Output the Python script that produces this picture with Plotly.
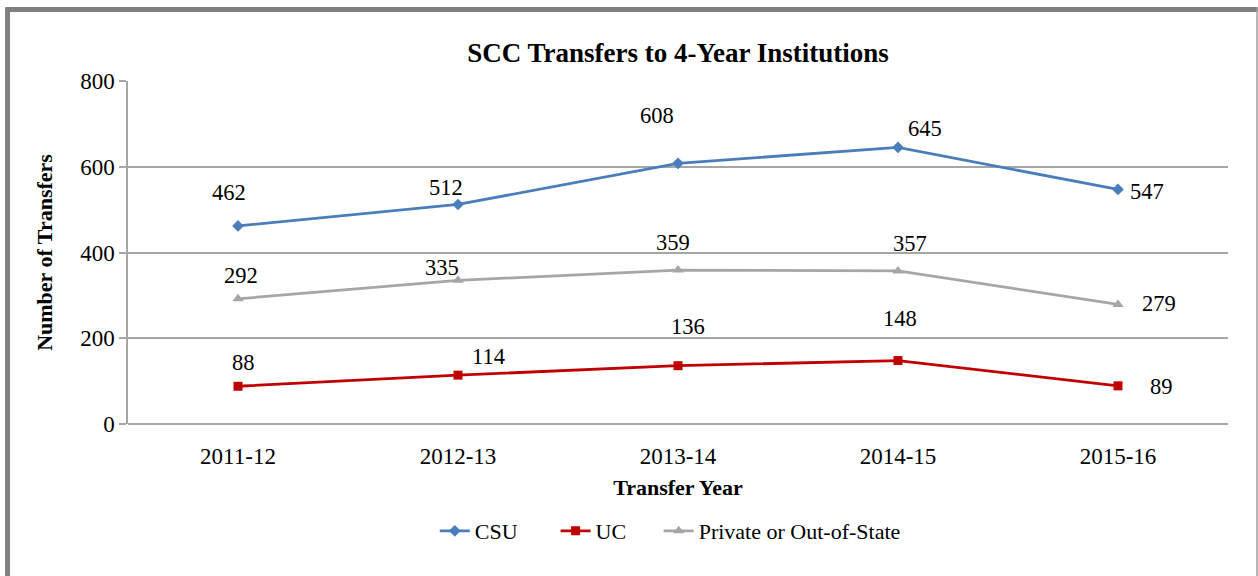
import plotly.graph_objects as go

# Data
years = ["2011-12", "2012-13", "2013-14", "2014-15", "2015-16"]
csu = [462, 512, 608, 645, 547]
uc = [88, 114, 136, 148, 89]
private = [292, 335, 359, 357, 279]

# label offsets (px) for the data labels
csu_off = [(-9, 33), (-12, 17), (-21, 48), (27, 19), (29, -2)]
uc_off = [(5, 24), (30, 19), (10, 39), (2, 42), (43, -1)]
priv_off = [(3, 23), (-16, 13), (-5, 28), (12, 27), (41, 1)]

FONT = "Liberation Serif"
NB = "\u00a0"

fig = go.Figure()

fig.add_trace(go.Scatter(
    x=years, y=csu, name='CSU' + NB * 6, mode='lines+markers',
    line=dict(color='#4A7EBB', width=2.8),
    marker=dict(symbol='diamond', size=9, color='#4A7EBB')
))
fig.add_trace(go.Scatter(
    x=years, y=uc, name='UC' + NB * 5, mode='lines+markers',
    line=dict(color='#C00000', width=2.8),
    marker=dict(symbol='square', size=9, color='#C00000')
))
fig.add_trace(go.Scatter(
    x=years, y=private, name='Private or Out-of-State', mode='lines+markers',
    line=dict(color='#A6A6A6', width=2.8),
    marker=dict(symbol='triangle-up', size=10, color='#A6A6A6')
))

# data labels
annotations = []
for vals, offs in [(csu, csu_off), (uc, uc_off), (private, priv_off)]:
    for yr, v, (dx, dy) in zip(years, vals, offs):
        annotations.append(dict(
            x=yr, y=v, text=str(v), showarrow=False,
            xshift=dx, yshift=dy, font=dict(family=FONT, size=22.5, color='black')
        ))

# outer frame
shapes = [
    dict(type='line', xref='paper', yref='paper', x0=-0.1113, x1=1.027, y0=1.2085, y1=1.2085,
         line=dict(color='#808080', width=5)),
    dict(type='line', xref='paper', yref='paper', x0=-0.1095, x1=-0.1095, y0=1.215, y1=-0.5,
         line=dict(color='#808080', width=5)),
    dict(type='line', xref='paper', yref='paper', x0=1.0264, x1=1.0264, y0=1.2085, y1=-0.5,
         line=dict(color='#A0A0A0', width=1.5)),
]

fig.update_layout(
    width=1258, height=576,
    margin=dict(l=128, r=30, t=81, b=152),
    paper_bgcolor='white', plot_bgcolor='white',
    font=dict(family=FONT, size=22, color='black'),
    title=dict(text='<b>SCC Transfers to 4-Year Institutions</b>', x=0.5, xref='paper', xanchor='center',
               y=0.909, yanchor='middle', font=dict(family=FONT, size=27)),
    xaxis=dict(
        type='category', range=[-0.5, 4.5],
        title=dict(text='<b>Transfer Year</b>', font=dict(size=22), standoff=12),
        showgrid=False, showline=False, zeroline=False,
        ticks='outside', ticklen=11, tickcolor='rgba(0,0,0,0)',
        tickfont=dict(size=23)
    ),
    yaxis=dict(
        title=dict(text='<b>Number of Transfers</b>', font=dict(size=22), standoff=21),
        range=[0, 800], dtick=200, showgrid=True, gridcolor='#A6A6A6', gridwidth=1.5,
        showline=True, linecolor='#A6A6A6', linewidth=1.5,
        ticks='outside', ticklen=7, tickcolor='#A6A6A6', tickwidth=1.5,
        zeroline=True, zerolinecolor='#A6A6A6', zerolinewidth=1.5,
        tickfont=dict(size=23)
    ),
    legend=dict(orientation='h', x=0.493, xanchor='center', y=-0.312, yanchor='middle',
                font=dict(size=22), itemwidth=30),
    annotations=annotations,
    shapes=shapes,
)

fig.update_traces(cliponaxis=False)

fig.write_html("out.html", config={'displayModeBar': False},
               post_script="document.body.style.margin='0';")
